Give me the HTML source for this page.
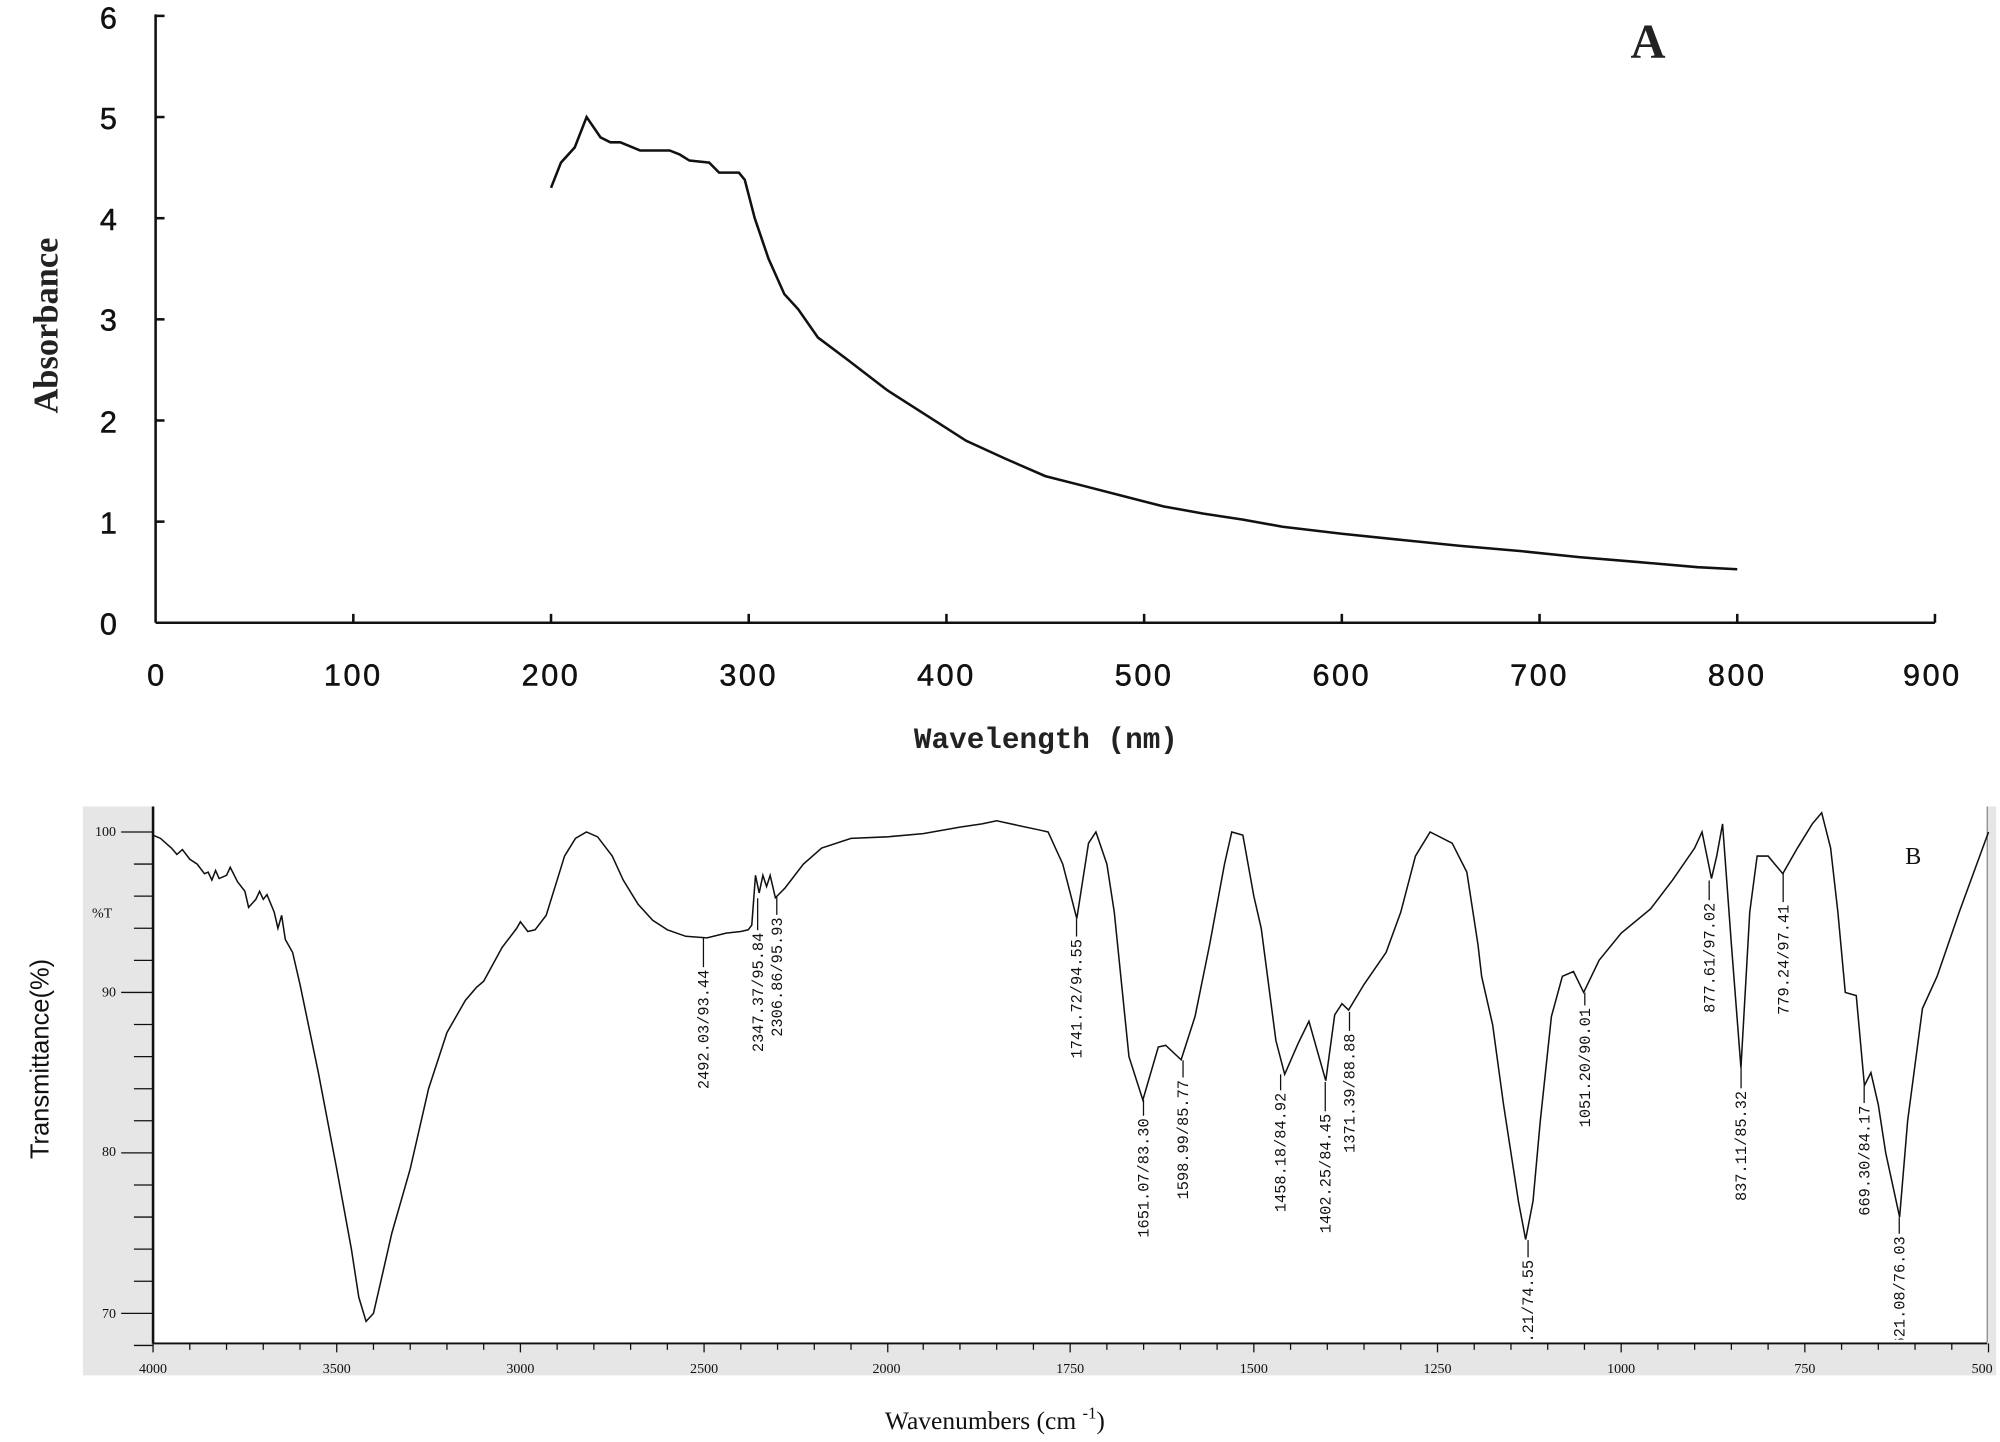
<!DOCTYPE html>
<html><head><meta charset="utf-8">
<style>
html,body{margin:0;padding:0;background:#fff;}
svg{display:block;}
</style></head>
<body>
<svg id="s" width="2000" height="1442" viewBox="0 0 1568 1130" xmlns="http://www.w3.org/2000/svg">
<rect width="1568" height="1130" fill="#fff"/>
<g id="A" stroke="#111" fill="none">
<line x1="122" y1="11" x2="122" y2="488" stroke-width="2"/>
<line x1="122" y1="488" x2="1517" y2="488" stroke-width="2"/>
</g>
<g font-family="Liberation Sans, sans-serif" font-size="24" fill="#111" text-anchor="middle" stroke="#111" stroke-width="0.4">
<text x="85" y="497">0</text><text x="85" y="418">1</text><text x="85" y="339">2</text><text x="85" y="259">3</text><text x="85" y="180">4</text><text x="85" y="101">5</text><text x="85" y="22">6</text>
<text x="122" y="537">0</text><text x="277" y="537" letter-spacing="2">100</text><text x="432" y="537" letter-spacing="2">200</text><text x="587" y="537" letter-spacing="2">300</text><text x="742" y="537" letter-spacing="2">400</text><text x="897" y="537" letter-spacing="2">500</text><text x="1052" y="537" letter-spacing="2">600</text><text x="1207" y="537" letter-spacing="2">700</text><text x="1362" y="537" letter-spacing="2">800</text><text x="1515" y="537" letter-spacing="2">900</text>
</g>
<text x="820" y="586" font-family="Liberation Mono, monospace" font-weight="bold" font-size="23" text-anchor="middle" fill="#222">Wavelength (nm)</text>
<text transform="translate(45,255) rotate(-90)" font-family="Liberation Serif, serif" font-size="27" font-weight="bold" text-anchor="middle" fill="#222">Absorbance</text>
<text x="1292" y="45" font-family="Liberation Serif, serif" font-weight="bold" font-size="38" text-anchor="middle" fill="#222">A</text>
<path id="ca" fill="none" stroke="#111" stroke-width="2"/>

<rect x="65" y="632" width="1500" height="446" fill="#e6e6e6"/>
<rect x="120" y="632" width="1438" height="420" fill="#fff"/>
<line x1="1558" y1="632" x2="1558" y2="1052" stroke="#888" stroke-width="1"/>
<line x1="120" y1="632" x2="120" y2="1053" stroke="#111" stroke-width="2"/>
<line x1="120" y1="1053" x2="1558" y2="1053" stroke="#111" stroke-width="1.5"/>
<g id="ticksB" stroke="#111" stroke-width="1"></g>
<g font-family="Liberation Serif, serif" font-size="11" fill="#111" text-anchor="end">
<text x="91" y="655">100</text><text x="91" y="781">90</text><text x="91" y="906">80</text><text x="91" y="1033">70</text>
<text x="88" y="719">%T</text>
</g>
<g font-family="Liberation Serif, serif" font-size="11" fill="#111" text-anchor="middle">
<text x="120" y="1076">4000</text><text x="264" y="1076">3500</text><text x="408" y="1076">3000</text><text x="552" y="1076">2500</text><text x="695" y="1076">2000</text><text x="839" y="1076">1750</text><text x="983" y="1076">1500</text><text x="1127" y="1076">1250</text><text x="1271" y="1076">1000</text><text x="1415" y="1076">750</text><text x="1554" y="1076">500</text>
</g>
<text x="1500" y="677" font-family="Liberation Serif, serif" font-size="19" text-anchor="middle" fill="#111">B</text>
<text transform="translate(38,830) rotate(-90)" font-family="Liberation Sans, sans-serif" font-size="20" text-anchor="middle" fill="#111">Transmittance(%)</text>
<text x="780" y="1120" font-family="Liberation Serif, serif" font-size="20" text-anchor="middle" fill="#111">Wavenumbers (cm <tspan font-size="13" dy="-8">-1</tspan><tspan dy="8">)</tspan></text>
<path id="cb" fill="none" stroke="#111" stroke-width="1.2"/>
<clipPath id="cl"><rect x="120" y="632" width="1438" height="418"/></clipPath>
<g id="labs" font-family="Liberation Mono, monospace" font-size="12" fill="#111" clip-path="url(#cl)"></g>
</svg>
<script>
var NS="http://www.w3.org/2000/svg";
function ax(n){return 122+n*1.55;} function ay(a){return 488-a*79.3;}
var A=[[200,4.3],[205,4.55],[212,4.7],[218,5.0],[225,4.8],[230,4.75],[235,4.75],[245,4.67],[260,4.67],[265,4.63],[270,4.57],[280,4.55],[285,4.45],[295,4.45],[298,4.38],[303,4.0],[310,3.6],[318,3.25],[325,3.1],[335,2.82],[350,2.6],[370,2.3],[390,2.05],[410,1.8],[430,1.62],[450,1.45],[470,1.35],[490,1.25],[510,1.15],[530,1.08],[550,1.02],[570,0.95],[600,0.88],[630,0.82],[660,0.76],[690,0.71],[720,0.65],[750,0.6],[780,0.55],[800,0.53]];
document.getElementById('ca').setAttribute('d','M'+A.map(function(p){return ax(p[0]).toFixed(1)+','+ay(p[1]).toFixed(1);}).join(' L'));
var gA=document.getElementById('A');
function ln(g,x1,y1,x2,y2,w){var l=document.createElementNS(NS,'line');l.setAttribute('x1',x1);l.setAttribute('y1',y1);l.setAttribute('x2',x2);l.setAttribute('y2',y2);if(w)l.setAttribute('stroke-width',w);g.appendChild(l);return l;}
for(var i=1;i<=9;i++)ln(gA,ax(i*100),488,ax(i*100),481,2);
for(var i=1;i<=6;i++)ln(gA,122,ay(i),129,ay(i),2);
function bx(w){return w>=2000?120+(4000-w)*0.288:695+(2000-w)*0.576;}
function by(t){return 652+(100-t)*12.58;}
var B=[[4000,99.8],[3980,99.6],[3960,99.2],[3950,99],[3935,98.6],[3920,98.9],[3900,98.3],[3880,98],[3860,97.4],[3850,97.5],[3840,97.0],[3830,97.6],[3820,97.1],[3800,97.3],[3790,97.8],[3770,96.9],[3750,96.3],[3740,95.3],[3720,95.8],[3710,96.3],[3700,95.8],[3690,96.1],[3670,95.0],[3660,94.0],[3650,94.8],[3640,93.3],[3620,92.5],[3600,90.5],[3550,85],[3500,79],[3460,74],[3440,71],[3420,69.5],[3400,70],[3380,72],[3350,75],[3300,79],[3250,84],[3200,87.5],[3150,89.5],[3120,90.3],[3100,90.7],[3050,92.8],[3010,94],[3000,94.4],[2980,93.8],[2960,93.9],[2930,94.8],[2900,97],[2880,98.5],[2850,99.6],[2820,100],[2790,99.7],[2750,98.5],[2720,97],[2680,95.5],[2640,94.5],[2600,93.9],[2550,93.5],[2492,93.4],[2440,93.7],[2400,93.8],[2380,93.9],[2370,94.2],[2360,97.3],[2350,96.2],[2340,97.3],[2330,96.6],[2320,97.3],[2306,95.9],[2280,96.5],[2230,98],[2180,99.0],[2100,99.6],[2000,99.7],[1950,99.9],[1900,100.3],[1870,100.5],[1850,100.7],[1820,100.4],[1790,100.1],[1780,100],[1760,98],[1741,94.6],[1725,99.3],[1715,100],[1700,98],[1690,95],[1670,86],[1651,83.3],[1630,86.6],[1620,86.7],[1599,85.8],[1580,88.5],[1560,93],[1540,98],[1530,100],[1515,99.8],[1500,96],[1490,94],[1470,87],[1458,84.9],[1440,86.8],[1425,88.2],[1402,84.5],[1390,88.6],[1380,89.3],[1371,88.9],[1350,90.5],[1320,92.5],[1300,95],[1280,98.5],[1260,100],[1230,99.3],[1210,97.5],[1195,93],[1190,91],[1175,88],[1160,83],[1140,77],[1130,74.6],[1120,77],[1110,82],[1095,88.5],[1080,91],[1065,91.3],[1051,90],[1030,92],[1000,93.7],[960,95.2],[930,97],[900,99],[890,100],[877,97.1],[870,98.5],[862,100.5],[850,93],[837,85.3],[825,95],[815,98.5],[800,98.5],[780,97.4],[760,99],[740,100.5],[727,101.2],[715,99],[705,95],[695,90],[680,89.8],[669,84.2],[660,85],[650,83],[640,80],[621,76],[610,82],[590,89],[570,91],[540,95],[500,100]];
document.getElementById('cb').setAttribute('d','M'+B.map(function(p){return bx(p[0]).toFixed(1)+','+by(p[1]).toFixed(1);}).join(' L'));
var tb=document.getElementById('ticksB');
for(var t=68;t<=100;t+=2){var maj=(t%10==0);ln(tb,maj?95:105,by(t),120,by(t));}
for(var w=4000;w>=2000;w-=100)ln(tb,bx(w),1053,bx(w),(w%500==0)?1060:1058);
for(var w=1950;w>=500;w-=50)ln(tb,bx(w),1053,bx(w),(w%250==0)?1060:1058);
var L=[[551.5,735,750,"2492.03/93.44"],[594,704,721,"2347.37/95.84"],[609,703,709,"2306.86/95.93"],[844,720,726,"1741.72/94.55"],[896.5,862,866.5,"1651.07/83.30"],[927.5,831,836.5,"1598.99/85.77"],[1004,842,846.5,"1458.18/84.92"],[1039,848,863,"1402.25/84.45"],[1058,793,800,"1371.39/88.88"],[1198,972,977.5,"1130.21/74.55"],[1242.5,778,780,"1051.20/90.01"],[1340,690,697.5,"877.61/97.02"],[1365,837,845,"837.11/85.32"],[1398,684,699,"779.24/97.41"],[1461.5,851,856.5,"669.30/84.17"],[1489,954,959,"621.08/76.03"]];
var lg=document.getElementById('labs');
L.forEach(function(d){
 var top=d[2];
 var l=ln(lg,d[0],d[1],d[0],top+8);
 l.setAttribute('stroke','#111');l.setAttribute('stroke-width','1');
 var tx=document.createElementNS(NS,'text');
 tx.setAttribute('transform','translate('+(d[0]+4)+','+(top+10)+') rotate(-90)');
 tx.setAttribute('text-anchor','end');
 tx.textContent=d[3];lg.appendChild(tx);
});
</script>
</body></html>
